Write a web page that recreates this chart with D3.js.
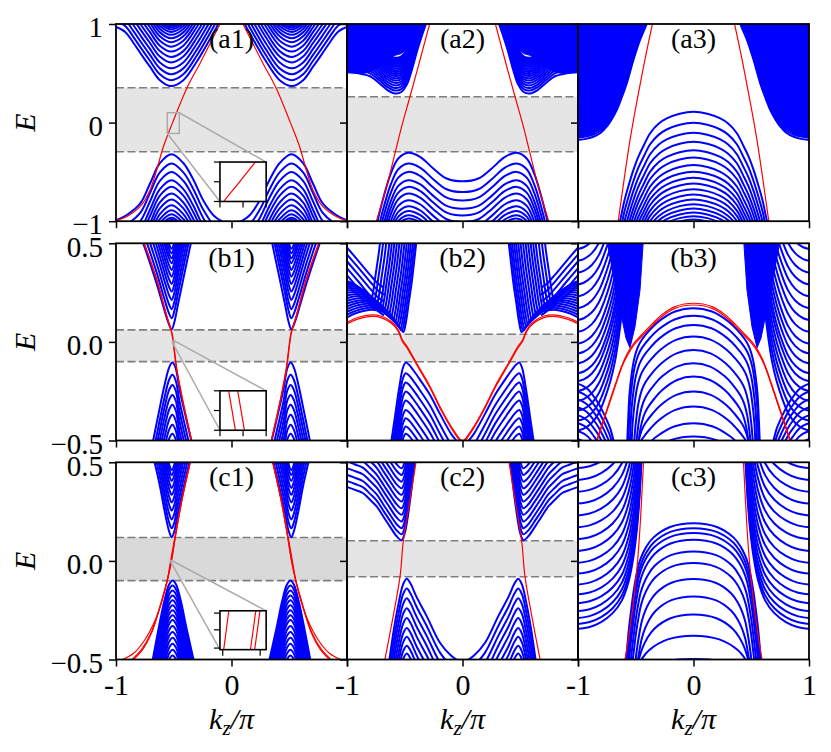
<!DOCTYPE html>
<html>
<head>
<meta charset="utf-8">
<script src="https://cdn.jsdelivr.net/npm/d3@7"></script>
<style>
  body { margin: 0; background: #fff; }
</style>
</head>
<body>
<svg id="fig" width="831" height="752"></svg>
<script>
// ---------------- data ----------------
// k in units of pi, E in plot units. Bands of one family are the
// first band moved by the levels (and widths) read for the others.
const kTicks = [-1, 0, 1];
const kTickLabels = ['-1', '0', '1'];
const eTicksTop = [1, 0, -1];
const eTickLabelsTop = ['1', '0', '\u22121'];
const eTicksLow = [0.5, 0, -0.5];
const eTickLabelsLow = ['0.5', '0.0', '\u22120.5'];

// gap bands [top, bottom]
const a1Gap = [0.353, -0.296], a2Gap = [0.262, -0.296];
const b1Gap = [0.061, -0.100], b2Gap = [0.039, -0.101];
const c1Gap = [0.119, -0.100], c2Gap = [0.102, -0.080];

// (a1)
const a1Red = [[-1,-0.995],[-0.91,-0.955],[-0.79,-0.85],[-0.706,-0.685],[-0.648,-0.482],[-0.59,-0.245],[-0.51,0.0],[-0.388,0.347],[-0.273,0.60],[-0.16,0.86],[-0.10,1.0],[-0.08,1.05]];
const a1Cond = [[-1,0.97],[-0.92,0.92],[-0.85,0.81],[-0.78,0.69],[-0.706,0.567],[-0.62,0.43],[-0.524,0.37],[-0.417,0.43],[-0.30,0.62],[-0.215,0.787],[-0.128,0.97],[-0.10,1.03]];
const a1CondLv = [0.37,0.43,0.49,0.55,0.61,0.665,0.72,0.77,0.815,0.855,0.89,0.92,0.945,0.965,0.98,0.99];
const a1Val = [[-1,-0.99],[-0.91,-0.94],[-0.79,-0.82],[-0.706,-0.62],[-0.62,-0.41],[-0.518,-0.32],[-0.417,-0.41],[-0.33,-0.58],[-0.244,-0.79],[-0.157,-0.94],[-0.10,-0.99],[-0.05,-1.02]];
const a1ValLv = [-0.32,-0.415,-0.50,-0.584,-0.65,-0.72,-0.78,-0.838,-0.888,-0.93,-0.964,-0.985];
const a1Inset = [-0.556, -0.452, -0.11, 0.10];

// (a2)
const a2Red = [[-0.28,1.02],[-0.368,0.635],[-0.455,0.262],[-0.527,-0.04],[-0.584,-0.31],[-0.657,-0.65],[-0.745,-1.0],[-0.75,-1.03]];
const a2Cond = [[-1,0.51],[-0.9,0.50],[-0.80,0.47],[-0.72,0.40],[-0.65,0.33],[-0.584,0.296],[-0.53,0.31],[-0.48,0.39],[-0.44,0.53],[-0.39,0.74],[-0.345,0.905],[-0.31,1.02]];
const a2CondLv = [0.296,0.325,0.352,0.378,0.403,0.427,0.45,0.472,0.493,0.513,0.532,0.55,0.567,0.583,0.598,0.612,0.625,0.637,0.648,0.658];
const a2Fill = [[-1.01,1.05],[-1.01,0.51],[-0.85,0.50],[-0.78,0.52],[-0.71,0.58],[-0.65,0.64],[-0.59,0.68],[-0.53,0.70],[-0.48,0.75],[-0.44,0.89],[-0.41,1.05]];
const a2Val = [[-0.74,-1.02],[-0.675,-0.72],[-0.62,-0.516],[-0.556,-0.364],[-0.469,-0.306],[-0.368,-0.347],[-0.253,-0.465],[-0.137,-0.567],[0,-0.595]];
const a2ValLv = [-0.306,-0.415,-0.50,-0.584,-0.652,-0.719,-0.787,-0.848,-0.896,-0.94,-0.973];

// (a3)
const a3Red = [[-0.35,1.03],[-0.41,0.70],[-0.46,0.40],[-0.55,-0.18],[-0.652,-1.0],[-0.656,-1.03]];
const a3Cond = [[-1.01,-0.178],[-0.93,-0.165],[-0.867,-0.144],[-0.80,-0.10],[-0.752,-0.042],[-0.70,0.05],[-0.665,0.127],[-0.62,0.26],[-0.578,0.398],[-0.52,0.635],[-0.463,0.838],[-0.405,1.0],[-0.39,1.05]];
const a3CondLv = [-0.178,-0.155,-0.135,-0.115];
const a3Fill = [[-1.01,1.05],[-1.01,-0.15],[-0.867,-0.11],[-0.752,0.0],[-0.665,0.17],[-0.60,0.37],[-0.55,0.55],[-0.50,0.74],[-0.455,0.90],[-0.425,1.05]];
const a3Dome = [[-0.64,-1.02],[-0.622,-0.922],[-0.60,-0.80],[-0.565,-0.651],[-0.52,-0.48],[-0.478,-0.347],[-0.43,-0.23],[-0.377,-0.11],[-0.30,-0.01],[-0.232,0.042],[-0.12,0.09],[0,0.11]];
const a3DomeLv = [0.11,-0.002,-0.103,-0.195,-0.28,-0.355,-0.431,-0.499,-0.56,-0.618,-0.675,-0.729,-0.78,-0.827,-0.871,-0.912,-0.949,-0.983];

// (b1)
const b1Red = [[-0.77,0.52],[-0.648,0.314],[-0.561,0.128],[-0.518,0.044],[-0.506,0.0],[-0.475,-0.142],[-0.431,-0.277],[-0.388,-0.395],[-0.34,-0.52]];
const b1Red2 = [[-0.767,0.52],[-0.645,0.314],[-0.558,0.128],[-0.5148,0.044],[-0.5028,0.0],[-0.4718,-0.142],[-0.428,-0.277],[-0.385,-0.395],[-0.337,-0.52]];
const b1Cond = [[-0.77,0.51],[-0.70,0.39],[-0.64,0.28],[-0.58,0.16],[-0.545,0.095],[-0.518,0.064],[-0.495,0.10],[-0.46,0.20],[-0.41,0.34],[-0.345,0.52]];
const b1CondLv = [0.064,0.12,0.166,0.213,0.255,0.294,0.331,0.365,0.399,0.424,0.449,0.472];
const b1Val = [[-0.685,-0.52],[-0.63,-0.36],[-0.58,-0.22],[-0.54,-0.13],[-0.512,-0.105],[-0.485,-0.13],[-0.45,-0.24],[-0.40,-0.37],[-0.34,-0.52]];
const b1ValLv = [-0.105,-0.167,-0.218,-0.269,-0.319,-0.37,-0.42,-0.466];
const b1Inset = [-0.5103, -0.4939, -0.005, 0.005];

// (b2)
const b2Red = [[-1,0.10],[-0.90,0.125],[-0.79,0.137],[-0.70,0.13],[-0.61,0.10],[-0.555,0.06],[-0.52,0.01],[-0.483,-0.02],[-0.397,-0.108],[-0.281,-0.226],[-0.195,-0.328],[-0.079,-0.446],[0,-0.5]];
const b2Red2 = [[-1,0.092],[-0.90,0.117],[-0.79,0.129],[-0.70,0.122],[-0.61,0.092],[-0.555,0.052],[-0.52,0.002],[-0.483,-0.028],[-0.397,-0.116],[-0.281,-0.234],[-0.195,-0.336],[-0.079,-0.454],[0,-0.508]];
const b2Fan = [[-1,0.125],[-0.90,0.15],[-0.79,0.163],[-0.70,0.155],[-0.62,0.13],[-0.565,0.09],[-0.53,0.06],[-0.512,0.05],[-0.49,0.10],[-0.465,0.20],[-0.44,0.30],[-0.42,0.40],[-0.397,0.52]];
const b2FanLv = [0.05,0.06,0.07,0.08,0.09,0.10,0.11,0.12,0.13,0.14,0.15,0.16,0.17,0.18,0.19,0.20];
const b2FanDk = [0,-0.012,-0.025,-0.04,-0.055,-0.072,-0.09,-0.11,-0.13,-0.15,-0.17,-0.19,-0.21,-0.235,-0.26,-0.285];
const b2Desc = [[-1.01,0.485],[-0.9,0.41],[-0.8,0.34],[-0.73,0.295],[-0.68,0.275]];
const b2DescLv = [0.485,0.45,0.415,0.38,0.345];
const b2Val = [[-0.62,-0.52],[-0.585,-0.38],[-0.55,-0.24],[-0.515,-0.13],[-0.492,-0.105],[-0.465,-0.115],[-0.43,-0.14],[-0.37,-0.19],[-0.28,-0.27],[-0.195,-0.365],[-0.10,-0.465],[-0.04,-0.51]];
const b2ValLv = [-0.105,-0.159,-0.206,-0.252,-0.297,-0.345,-0.387,-0.429,-0.466];

// (b3)
const b3Red = [[-0.85,-0.52],[-0.76,-0.36],[-0.68,-0.22],[-0.62,-0.12],[-0.58,-0.066],[-0.52,-0.01],[-0.45,0.035],[-0.36,0.09],[-0.276,0.137],[-0.16,0.179],[0,0.196]];
const b3Red2 = [[-0.845,-0.52],[-0.755,-0.36],[-0.675,-0.22],[-0.615,-0.12],[-0.576,-0.072],[-0.52,-0.019],[-0.45,0.026],[-0.36,0.081],[-0.276,0.128],[-0.16,0.17],[0,0.187]];
const b3Dome = [[-0.575,-0.52],[-0.566,-0.40],[-0.555,-0.27],[-0.537,-0.17],[-0.515,-0.09],[-0.485,-0.03],[-0.449,0.01],[-0.38,0.06],[-0.304,0.103],[-0.16,0.154],[0,0.171]];
const b3DomeLv = [0.171,0.132,0.086,0.027,-0.041,-0.108,-0.176,-0.252,-0.328,-0.412,-0.48];
const b3DomeKs = [1,0.99,0.97,0.95,0.92,0.9,0.89,0.93,0.98,1.05,1.2];
const b3Fill = [[-0.434,0.52],[-0.463,0.263],[-0.506,0.078],[-0.55,-0.03],[-0.585,0.02],[-0.63,0.15],[-0.68,0.30],[-0.72,0.42],[-0.75,0.52]];
const b3Arc = [[-1.01,-0.2],[-0.95,-0.19],[-0.88,-0.16],[-0.82,-0.11],[-0.77,-0.04],[-0.72,0.05],[-0.68,0.15],[-0.65,0.26],[-0.625,0.38],[-0.61,0.52]];
const b3ArcLv = [-0.2,-0.45,-0.40,-0.35,-0.30,-0.25,-0.16,-0.11,-0.06,-0.01,0.05,0.11,0.17,0.23,0.29,0.35,0.41,0.47];
const b3Desc = [[-1.01,-0.21],[-0.95,-0.225],[-0.91,-0.243],[-0.86,-0.28],[-0.824,-0.311],[-0.78,-0.36],[-0.752,-0.395],[-0.72,-0.44],[-0.694,-0.497],[-0.68,-0.53]];
const b3DescLv = [-0.21,-0.25,-0.29,-0.33,-0.37,-0.41,-0.45,-0.49];

// (c1)
const c1RedO = [[-0.98,-0.51],[-0.85,-0.47],[-0.75,-0.40],[-0.66,-0.30],[-0.60,-0.20],[-0.56,-0.11],[-0.527,0.0],[-0.489,0.124],[-0.431,0.309],[-0.355,0.51]];
const c1RedI = [[-0.88,-0.51],[-0.78,-0.45],[-0.70,-0.37],[-0.64,-0.27],[-0.59,-0.17],[-0.553,-0.09],[-0.5206,0.0],[-0.486,0.124],[-0.429,0.309],[-0.353,0.51]];
const c1RedI2 = [[-0.866,-0.51],[-0.77,-0.45],[-0.695,-0.37],[-0.637,-0.27],[-0.588,-0.17],[-0.552,-0.09],[-0.5196,0.0],[-0.4855,0.124],[-0.4285,0.309],[-0.3525,0.51]];
const c1Cond = [[-0.67,0.51],[-0.62,0.38],[-0.575,0.24],[-0.54,0.15],[-0.518,0.12],[-0.495,0.15],[-0.465,0.24],[-0.42,0.36],[-0.36,0.51]];
const c1CondLv = [0.12,0.165,0.21,0.255,0.296,0.335,0.37,0.405,0.435,0.46];
const c1Val = [[-0.685,-0.51],[-0.63,-0.34],[-0.58,-0.2],[-0.54,-0.12],[-0.511,-0.10],[-0.48,-0.12],[-0.44,-0.2],[-0.39,-0.34],[-0.325,-0.51]];
const c1ValLv = [-0.10,-0.125,-0.15,-0.175,-0.20,-0.225,-0.25,-0.275,-0.30,-0.33,-0.36,-0.39,-0.42,-0.45,-0.48];
const c1Inset = [-0.5285, -0.5175, -0.002, 0.002];

// (c2)
const c2Red = [[-0.40,0.51],[-0.46,0.29],[-0.512,0.102],[-0.541,-0.08],[-0.60,-0.28],[-0.675,-0.51]];
const c2Cond = [[-1.01,0.377],[-0.93,0.36],[-0.86,0.343],[-0.80,0.31],[-0.743,0.276],[-0.68,0.22],[-0.628,0.174],[-0.57,0.125],[-0.527,0.105],[-0.50,0.14],[-0.48,0.2],[-0.46,0.28],[-0.44,0.37],[-0.415,0.51]];
const c2CondLv = [0.105,0.135,0.166,0.2,0.234,0.267,0.301,0.335,0.368,0.402,0.436,0.47];
const c2Val = [[-0.635,-0.51],[-0.595,-0.35],[-0.555,-0.22],[-0.515,-0.12],[-0.483,-0.09],[-0.45,-0.115],[-0.40,-0.18],[-0.31,-0.28],[-0.195,-0.415],[-0.10,-0.48],[-0.04,-0.505]];
const c2ValLv = [-0.09,-0.14,-0.19,-0.24,-0.29,-0.34,-0.385,-0.43,-0.47];

// (c3)
const c3Red = [[-0.432,0.51],[-0.46,0.2],[-0.487,-0.02],[-0.54,-0.3],[-0.596,-0.51]];
const c3Fan = [[-1.01,-0.345],[-0.9,-0.335],[-0.8,-0.31],[-0.7,-0.265],[-0.62,-0.2],[-0.56,-0.1],[-0.52,0.02],[-0.49,0.16],[-0.47,0.3],[-0.449,0.52]];
const c3FanLv = [-0.345,-0.32,-0.29,-0.255,-0.215,-0.17,-0.12,-0.065,-0.01,0.05,0.11,0.17,0.23,0.29,0.35,0.41,0.47];
const c3Dome = [[-0.585,-0.52],[-0.562,-0.36],[-0.54,-0.25],[-0.52,-0.16],[-0.497,-0.08],[-0.475,-0.02],[-0.445,0.03],[-0.41,0.07],[-0.348,0.118],[-0.203,0.172],[0,0.191]];
const c3DomeLv = [0.191,0.166,0.141,0.107,0.048,-0.011,-0.092,-0.18,-0.272,-0.379,-0.497];
const c3DomeKs = [1,0.99,0.985,0.975,0.965,0.955,0.94,0.94,0.98,1.1,1.5];

// ---------------- layout ----------------
const colX = [116, 347, 578], rowY = [24, 243.3, 462.3];
const pw = 231, ph = 197.2;
const BLUE = '#0000ff', RED = '#ff0000';
const FONT = '"Liberation Serif","Times New Roman",serif';

const panels = [
  {c:0, r:0, name:'(a1)', gap:a1Gap, gapFill:'#e5e5e5', fills:[],
   fams:[{pts:a1Cond, lv:a1CondLv, mode:'mirror'}, {pts:a1Val, lv:a1ValLv, mode:'mirror'}],
   reds:[a1Red], redMode:'mirror',
   inset:{win:a1Inset, box:[0.45, 0.70, 0.2, 0.2], xt:[0, 0.5, 1], yt:[0, 0.5, 1]}},
  {c:1, r:0, name:'(a2)', gap:a2Gap, gapFill:'#e5e5e5', fills:[{pts:a2Fill, mode:'mirror'}],
   fams:[{pts:a2Cond, lv:a2CondLv, mode:'mirror'}, {pts:a2Val, lv:a2ValLv, mode:'sym'}],
   reds:[a2Red], redMode:'mirror'},
  {c:2, r:0, name:'(a3)', fills:[{pts:a3Fill, mode:'mirror'}],
   fams:[{pts:a3Cond, lv:a3CondLv, mode:'mirror'}, {pts:a3Dome, lv:a3DomeLv, mode:'sym'}],
   reds:[a3Red], redMode:'mirror'},
  {c:0, r:1, name:'(b1)', gap:b1Gap, gapFill:'#e5e5e5', fills:[],
   fams:[{pts:b1Cond, lv:b1CondLv, mode:'mirror'}, {pts:b1Val, lv:b1ValLv, mode:'mirror'}],
   reds:[b1Red, b1Red2], redMode:'mirror',
   inset:{win:b1Inset, box:[0.45, 0.748, 0.2, 0.2], xt:[0, 0.5, 1], yt:[0, 0.5, 1]}},
  {c:1, r:1, name:'(b2)', gap:b2Gap, gapFill:'#e5e5e5', fills:[],
   fams:[{pts:b2Fan, lv:b2FanLv, dk:b2FanDk, mode:'mirror'}, {pts:b2Desc, lv:b2DescLv, mode:'mirror'},
         {pts:b2Val, lv:b2ValLv, mode:'mirror'}],
   reds:[b2Red, b2Red2], redMode:'sym'},
  {c:2, r:1, name:'(b3)', fills:[{pts:b3Fill, mode:'mirror'}],
   fams:[{pts:b3Arc, lv:b3ArcLv, mode:'mirror'}, {pts:b3Desc, lv:b3DescLv, mode:'mirror'},
         {pts:b3Dome, lv:b3DomeLv, ks:b3DomeKs, mode:'sym'}],
   reds:[b3Red, b3Red2], redMode:'sym'},
  {c:0, r:2, name:'(c1)', gap:c1Gap, gapFill:'#d9d9d9', fills:[],
   fams:[{pts:c1Cond, lv:c1CondLv, mode:'mirror'}, {pts:c1Val, lv:c1ValLv, mode:'mirror'}],
   reds:[c1RedO, c1RedI, c1RedI2], redMode:'mirror',
   inset:{win:c1Inset, box:[0.45, 0.753, 0.2, 0.197], xt:[0.06, 0.87], yt:[0.04, 0.51, 0.94]}},
  {c:1, r:2, name:'(c2)', gap:c2Gap, gapFill:'#e5e5e5', fills:[],
   fams:[{pts:c2Cond, lv:c2CondLv, mode:'mirror'}, {pts:c2Val, lv:c2ValLv, mode:'mirror'}],
   reds:[c2Red], redMode:'mirror'},
  {c:2, r:2, name:'(c3)', fills:[],
   fams:[{pts:c3Fan, lv:c3FanLv, mode:'mirror'}, {pts:c3Dome, lv:c3DomeLv, ks:c3DomeKs, mode:'sym'}],
   reds:[c3Red], redMode:'mirror'}
];

// ---------------- helpers ----------------
function flip(pts) { return pts.map(([k, E]) => [-k, E]); }

// 'mirror': a copy at -k ; 'sym': left half joined to its mirror image
function expand(pts, mode) {
  if (mode === 'mirror') return [pts, flip(pts)];
  if (mode === 'sym') return [pts.concat(flip(pts.slice(0, -1)).reverse())];
  return [pts];
}

function familyCurves(fam) {
  const out = [];
  fam.lv.forEach((v, i) => {
    const dE = v - fam.lv[0];
    const dk = fam.dk ? fam.dk[i] : 0;
    const ks = fam.ks ? fam.ks[i] : 1;
    const moved = fam.pts.map(([k, E]) => [(k + dk) * ks, E + dE]);
    expand(moved, fam.mode).forEach(c => out.push(c));
  });
  return out;
}

const svg = d3.select('#fig');
const defs = svg.append('defs');

panels.forEach((p, idx) => {
  const x0 = colX[p.c], y0 = rowY[p.r];
  const x = d3.scaleLinear().domain([-1, 1]).range([x0, x0 + pw]);
  const y = d3.scaleLinear().domain(p.r === 0 ? [-1, 1] : [-0.5, 0.5]).range([y0 + ph, y0]);
  const line = d3.line().x(d => x(d[0])).y(d => y(d[1])).curve(d3.curveCatmullRom);
  const poly = d3.line().x(d => x(d[0])).y(d => y(d[1]));

  defs.append('clipPath').attr('id', 'clip' + idx)
    .append('rect').attr('x', x0).attr('y', y0).attr('width', pw).attr('height', ph);

  const g = svg.append('g');
  const body = g.append('g').attr('clip-path', `url(#clip${idx})`);

  // gap band
  if (p.gap) {
    body.append('rect')
      .attr('x', x0).attr('width', pw)
      .attr('y', y(p.gap[0])).attr('height', y(p.gap[1]) - y(p.gap[0]))
      .attr('fill', p.gapFill);
    p.gap.forEach(v => {
      body.append('line')
        .attr('x1', x0).attr('x2', x0 + pw).attr('y1', y(v)).attr('y2', y(v))
        .attr('stroke', '#7f7f7f').attr('stroke-width', 1.6)
        .attr('stroke-dasharray', '8,3.5');
    });
  }

  // dense bulk regions
  (p.fills || []).forEach(f => {
    expand(f.pts, f.mode).forEach(c => {
      body.append('path').attr('d', poly(c) + 'Z')
        .attr('fill', BLUE).attr('stroke', BLUE).attr('stroke-width', 1);
    });
  });

  // bulk bands
  p.fams.forEach(fam => {
    body.selectAll(null).data(familyCurves(fam)).enter()
      .append('path')
      .attr('d', line)
      .attr('fill', 'none').attr('stroke', BLUE).attr('stroke-width', 2);
  });

  // surface states
  p.reds.forEach(r => {
    body.selectAll(null).data(expand(r, p.redMode)).enter()
      .append('path')
      .attr('d', line)
      .attr('fill', 'none').attr('stroke', RED).attr('stroke-width', 1.2);
  });

  // inset
  if (p.inset) {
    const [k0, k1, e0, e1] = p.inset.win;
    const [fx, fy, fw, fh] = p.inset.box;
    const bx = x0 + fx * pw, by = y0 + fy * ph, bw = fw * pw, bh = fh * ph;
    const xi = d3.scaleLinear().domain([k0, k1]).range([bx, bx + bw]);
    const yi = d3.scaleLinear().domain([e0, e1]).range([by + bh, by]);
    const lineI = d3.line().x(d => xi(d[0])).y(d => yi(d[1])).curve(d3.curveCatmullRom);

    g.append('rect')
      .attr('x', x(k0)).attr('y', y(e1))
      .attr('width', Math.max(x(k1) - x(k0), 1)).attr('height', Math.max(y(e0) - y(e1), 1))
      .attr('fill', 'none').attr('stroke', '#ababab').attr('stroke-width', 1.5);
    g.append('line').attr('x1', x(k1)).attr('y1', y(e1)).attr('x2', bx + bw).attr('y2', by)
      .attr('stroke', '#ababab').attr('stroke-width', 1.5);
    g.append('line').attr('x1', x(k0)).attr('y1', y(e0)).attr('x2', bx).attr('y2', by + bh)
      .attr('stroke', '#ababab').attr('stroke-width', 1.5);

    defs.append('clipPath').attr('id', 'iclip' + idx)
      .append('rect').attr('x', bx).attr('y', by).attr('width', bw).attr('height', bh);
    const ig = g.append('g');
    ig.append('rect').attr('x', bx).attr('y', by).attr('width', bw).attr('height', bh).attr('fill', '#fff');
    const ib = ig.append('g').attr('clip-path', `url(#iclip${idx})`);
    p.reds.forEach(r => {
      ib.selectAll(null).data(expand(r, p.redMode)).enter()
        .append('path').attr('d', lineI)
        .attr('fill', 'none').attr('stroke', RED).attr('stroke-width', 1.2);
    });
    ig.append('rect').attr('x', bx).attr('y', by).attr('width', bw).attr('height', bh)
      .attr('fill', 'none').attr('stroke', '#000').attr('stroke-width', 1.6);
    p.inset.yt.forEach(f => {
      const ty = by + bh - f * bh;
      ig.append('line').attr('x1', bx - 6).attr('x2', bx).attr('y1', ty).attr('y2', ty)
        .attr('stroke', '#000').attr('stroke-width', 1.2);
    });
    p.inset.xt.forEach(f => {
      const tx = bx + f * bw;
      ig.append('line').attr('x1', tx).attr('x2', tx).attr('y1', by + bh).attr('y2', by + bh + 6)
        .attr('stroke', '#000').attr('stroke-width', 1.2);
    });
  }

  // axes
  const yTicks = p.r === 0 ? eTicksTop : eTicksLow;
  const yLabels = p.r === 0 ? eTickLabelsTop : eTickLabelsLow;
  const yAxis = d3.axisLeft(y).tickValues(yTicks).tickSize(7).tickPadding(6)
    .tickFormat((d, i) => p.c === 0 ? yLabels[i] : '');
  const ya = g.append('g').attr('transform', `translate(${x0},0)`).call(yAxis);
  ya.select('.domain').remove();
  ya.selectAll('line').attr('stroke', '#000').attr('stroke-width', 1.5);
  ya.selectAll('text').attr('font-family', FONT).attr('font-size', 29).attr('dy', '0.44em').attr('fill', '#000');

  const xAxis = d3.axisBottom(x).tickValues(kTicks).tickSize(7)
    .tickFormat((d, i) => (p.r === 2 && (i < 2 || p.c === 2)) ? kTickLabels[i] : '');
  const xa = g.append('g').attr('transform', `translate(0,${y0 + ph})`).call(xAxis);
  xa.select('.domain').remove();
  xa.selectAll('line').attr('stroke', '#000').attr('stroke-width', 1.5);
  xa.selectAll('text').attr('font-family', FONT).attr('font-size', 30)
    .attr('y', 35.5).attr('dy', 0).attr('fill', '#000');

  // frame
  g.append('rect').attr('x', x0).attr('y', y0).attr('width', pw).attr('height', ph)
    .attr('fill', 'none').attr('stroke', '#000').attr('stroke-width', 1.8);

  // panel tag
  g.append('text').attr('x', x0 + pw / 2).attr('y', y0 + 24)
    .attr('text-anchor', 'middle').attr('font-family', FONT).attr('font-size', 28)
    .text(p.name);
});

// axis titles
rowY.forEach(ry => {
  svg.append('text')
    .attr('transform', `translate(35,${ry + ph / 2}) rotate(-90)`)
    .attr('text-anchor', 'middle').attr('font-family', FONT)
    .attr('font-size', 30).attr('font-style', 'italic').text('E');
});
colX.forEach(cx => {
  const t = svg.append('text').attr('x', cx + pw / 2).attr('y', 729)
    .attr('text-anchor', 'middle').attr('font-family', FONT).attr('font-size', 30)
    .attr('font-style', 'italic');
  t.append('tspan').text('k');
  t.append('tspan').attr('font-size', 21).attr('dy', 6).text('z');
  t.append('tspan').attr('dy', -6).text('/\u03c0');
});
</script>
</body>
</html>
